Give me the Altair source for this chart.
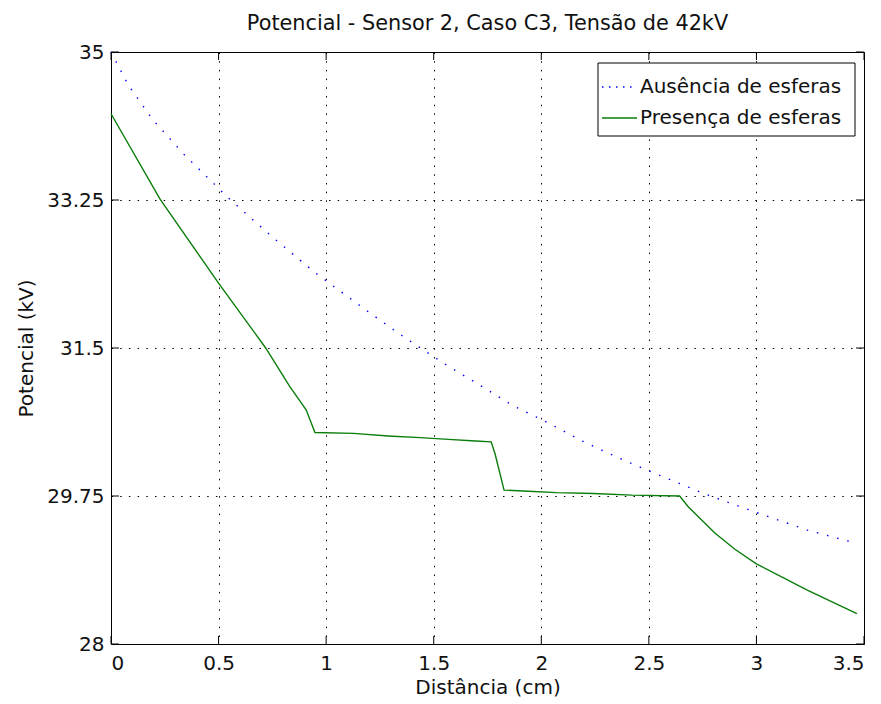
import altair as alt
import pandas as pd

# Potential along the sensor path, without spheres (dotted blue)
dist_ausencia = [0.0, 0.08, 0.194, 0.339, 0.543, 0.742, 0.944, 1.184, 1.344, 1.545,
                 1.708, 1.867, 2.028, 2.19, 2.351, 2.506, 2.754, 2.994, 3.234, 3.45]
pot_ausencia = [35.0, 34.61, 34.20, 33.79, 33.28, 32.83, 32.40, 31.95, 31.66, 31.32,
                31.07, 30.82, 30.62, 30.40, 30.21, 30.04, 29.78, 29.56, 29.35, 29.20]

# Potential along the sensor path, with spheres (solid green)
dist_presenca = [0.0, 0.228, 0.499, 0.719, 0.832, 0.907, 0.948, 1.127, 1.289, 1.437,
                 1.568, 1.695, 1.767, 1.785, 1.827, 1.914, 2.072, 2.242, 2.421, 2.643,
                 2.684, 2.808, 2.9, 2.998, 3.234, 3.467]
pot_presenca = [34.27, 33.26, 32.27, 31.50, 31.04, 30.77, 30.50, 30.49, 30.46, 30.44,
                30.42, 30.40, 30.39, 30.25, 29.82, 29.81, 29.79, 29.78, 29.76, 29.75,
                29.62, 29.31, 29.12, 28.95, 28.64, 28.36]

series_names = ["Ausência de esferas", "Presença de esferas"]
x_ticks = [0, 0.5, 1, 1.5, 2, 2.5, 3, 3.5]
y_ticks = [28, 29.75, 31.5, 33.25, 35]

W, H = 753, 592
FONT = "DejaVu Sans"
INK = "#111111"
TICK = 8

df_aus = pd.DataFrame({"dist": dist_ausencia, "pot": pot_ausencia, "serie": series_names[0]})
df_pre = pd.DataFrame({"dist": dist_presenca, "pot": pot_presenca, "serie": series_names[1]})

x_scale = alt.Scale(domain=[0, 3.5], nice=False, zero=False)
y_scale = alt.Scale(domain=[28, 35], nice=False, zero=False)

axis_style = dict(
    grid=True, gridColor="#000000", gridDash=[1.5, 7.2], gridWidth=1, gridOpacity=1,
    ticks=False, domain=False, labelExpr="'' + datum.value",
    labelFont=FONT, labelFontSize=20, labelColor=INK,
    titleFont=FONT, titleFontSize=20, titleColor=INK, titleFontWeight="normal",
)
x_axis = alt.Axis(values=x_ticks, title="Distância (cm)", labelPadding=9,
                  titlePadding=4, **axis_style)
y_axis = alt.Axis(values=y_ticks, title="Potencial (kV)", labelPadding=7,
                  titlePadding=10, **axis_style)


def xq(field):
    return alt.X(f"{field}:Q", scale=x_scale, axis=x_axis)


def yq(field):
    return alt.Y(f"{field}:Q", scale=y_scale, axis=y_axis)


aus_line = alt.Chart(df_aus).mark_line(
    color="#0000ff", strokeWidth=1.4, strokeDash=[1.5, 9]
).encode(x=xq("dist"), y=yq("pot"))

pre_line = alt.Chart(df_pre).mark_line(color="#0a7d0a", strokeWidth=1.4).encode(
    x=xq("dist"), y=yq("pot"))

# Inward tick marks on all four sides of the box
xt = pd.DataFrame({"dist": x_ticks})
yt = pd.DataFrame({"pot": y_ticks})
tick_style = dict(color="#000000", strokeWidth=1)
x_ticks_bottom = alt.Chart(xt).mark_rule(**tick_style).encode(
    x=xq("dist"), y=alt.value(H), y2=alt.value(H - TICK))
x_ticks_top = alt.Chart(xt).mark_rule(**tick_style).encode(
    x=xq("dist"), y=alt.value(0), y2=alt.value(TICK))
y_ticks_left = alt.Chart(yt).mark_rule(**tick_style).encode(
    y=yq("pot"), x=alt.value(0), x2=alt.value(TICK))
y_ticks_right = alt.Chart(yt).mark_rule(**tick_style).encode(
    y=yq("pot"), x=alt.value(W - TICK), x2=alt.value(W))

# Legend box in the upper right corner
LX0, LX1, LY0, LY1 = 487, 744, 11, 84
ROW1, ROW2 = 35, 66
SX0, SX1, TX = 491, 526, 529

legend_box = alt.Chart(pd.DataFrame({"k": [0]})).mark_rect(
    fill="white", stroke="#000000", strokeWidth=1
).encode(x=alt.value(LX0), x2=alt.value(LX1), y=alt.value(LY0), y2=alt.value(LY1))

leg1 = pd.DataFrame({"serie": [series_names[0]]})
leg2 = pd.DataFrame({"serie": [series_names[1]]})
leg_sample1 = alt.Chart(leg1).mark_rule(
    color="#0000ff", strokeWidth=1.4, strokeDash=[1.5, 5.5]
).encode(x=alt.value(SX0), x2=alt.value(SX1), y=alt.value(ROW1))
leg_sample2 = alt.Chart(leg2).mark_rule(color="#0a7d0a", strokeWidth=1.4).encode(
    x=alt.value(SX0), x2=alt.value(SX1), y=alt.value(ROW2))
text_style = dict(align="left", baseline="middle", font=FONT, fontSize=20, color=INK)
leg_text1 = alt.Chart(leg1).mark_text(**text_style).encode(
    x=alt.value(TX), y=alt.value(ROW1), text="serie:N")
leg_text2 = alt.Chart(leg2).mark_text(**text_style).encode(
    x=alt.value(TX), y=alt.value(ROW2), text="serie:N")

chart = alt.layer(
    aus_line, pre_line,
    x_ticks_bottom, x_ticks_top, y_ticks_left, y_ticks_right,
    legend_box, leg_sample1, leg_sample2, leg_text1, leg_text2,
).properties(
    width=W, height=H,
    title=alt.TitleParams(
        "Potencial - Sensor 2, Caso C3, Tensão de 42kV",
        font=FONT, fontSize=20.8, fontWeight="normal", color=INK,
        anchor="middle", frame="group", offset=7,
    ),
    autosize=alt.AutoSizeParams(type="none"),
    padding={"left": 111, "top": 52, "right": 17, "bottom": 60},
    background="white",
).configure_view(stroke="#000000", strokeWidth=1)

chart.save("out.html", embed_options={"renderer": "svg", "actions": False})
